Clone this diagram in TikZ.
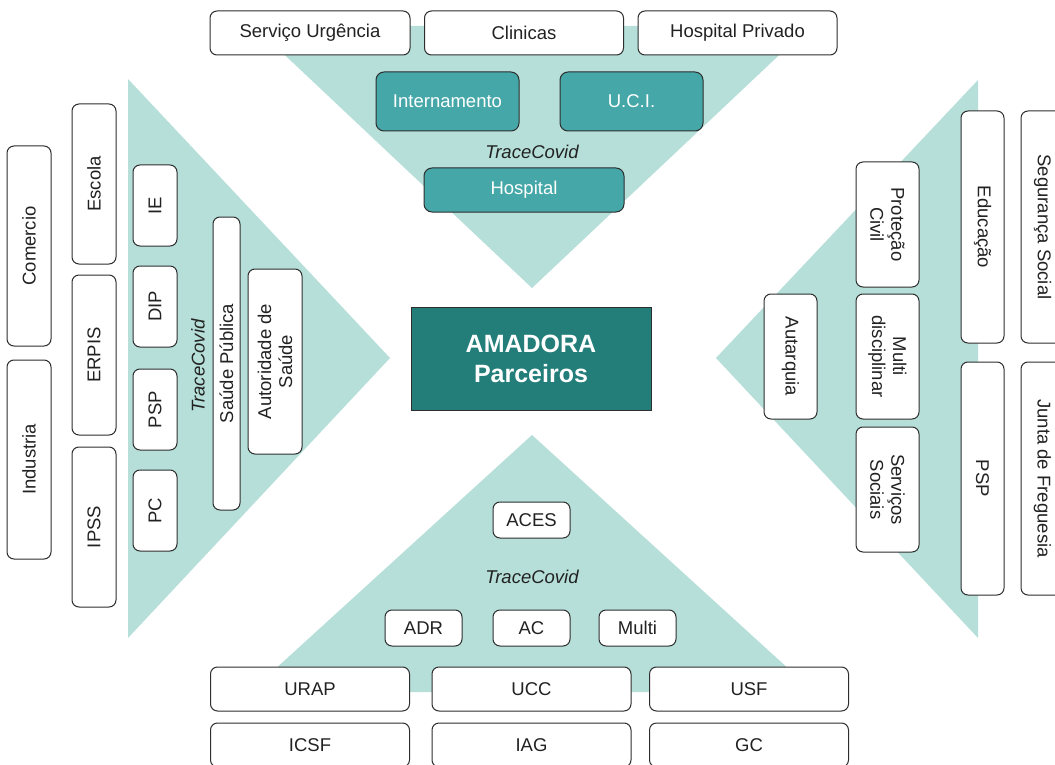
\documentclass[tikz,border=0pt]{standalone}
\usepackage{fontspec}
\setmainfont{Liberation Sans}
\definecolor{trifill}{HTML}{B5DFD8}
\definecolor{tealbox}{HTML}{46A7A8}
\definecolor{centerbox}{HTML}{237E7A}
\definecolor{boxline}{HTML}{2E2E2E}
\definecolor{txt}{HTML}{222222}
\tikzset{
  box/.style={draw=boxline, line width=1pt, rounded corners=7pt, fill=white, inner sep=0pt,
              text=txt, font=\fontsize{18.5}{21}\selectfont, align=center},
  tbox/.style={box, fill=tealbox, text=white, rounded corners=8pt},
  cbox/.style={draw=boxline, line width=1pt, fill=centerbox, text=white, inner sep=0pt,
               font=\fontsize{25}{30}\selectfont\bfseries, align=center},
  tracelbl/.style={text=txt, inner sep=0pt, font=\fontsize{18.5}{21}\selectfont\itshape},
  trishape/.style={fill=trifill, draw=none}
}
\begin{document}
\begin{tikzpicture}[x=1pt, y=-1pt]
\useasboundingbox (0,0) rectangle (1055,765);
\clip (0,0) rectangle (1055,765);
\fill[white] (0,0) rectangle (1055,765);
% triangles
\fill[trishape] (254,26) -- (810,26) -- (532,288) -- cycle;
\fill[trishape] (128,79) -- (128,638) -- (390,358) -- cycle;
\fill[trishape] (978,80) -- (978,638) -- (716,358) -- cycle;
\fill[trishape] (532,435) -- (250,692) -- (814,692) -- cycle;
% centre
\node[cbox, minimum width=240pt, minimum height=103pt] (amd) at (531,358.5) {AMADORA\\Parceiros};
% top
\node[box, minimum width=200pt, minimum height=44pt] (su) at (310,33) {Serviço Urgência};
\node[box, minimum width=199pt, minimum height=44pt] (cl) at (524,33) {Clinicas};
\node[box, minimum width=199pt, minimum height=44pt] (hp) at (737.5,33) {Hospital Privado};
\node[tbox, minimum width=143pt, minimum height=59pt] (int) at (447.5,101.5) {Internamento};
\node[tbox, minimum width=143pt, minimum height=59pt] (uci) at (631.5,101.5) {U.C.I.};
\node[tracelbl] (tc1) at (532,152) {TraceCovid};
\node[tbox, minimum width=200pt, minimum height=44pt] (hos) at (524,190) {Hospital};
% left
\node[box, rotate=90, minimum width=200pt, minimum height=44pt] (com) at (29,246) {Comercio};
\node[box, rotate=90, minimum width=199pt, minimum height=44pt] (ind) at (29,459.5) {Industria};
\node[box, rotate=90, minimum width=160pt, minimum height=44pt] (esc) at (94,184) {Escola};
\node[box, rotate=90, minimum width=160pt, minimum height=44pt] (erp) at (94,355) {ERPIS};
\node[box, rotate=90, minimum width=160pt, minimum height=44pt] (ips) at (94,527) {IPSS};
\node[box, rotate=90, minimum width=81pt, minimum height=44pt] (ie) at (155,205.5) {IE};
\node[box, rotate=90, minimum width=81pt, minimum height=44pt] (dip) at (155,306.5) {DIP};
\node[box, rotate=90, minimum width=81pt, minimum height=44pt] (psp) at (155,409.5) {PSP};
\node[box, rotate=90, minimum width=81pt, minimum height=44pt] (pc) at (155,510.5) {PC};
\node[tracelbl, rotate=90] (tc2) at (198,366) {TraceCovid};
\node[box, rotate=90, minimum width=293pt, minimum height=27pt] (sp) at (226.5,363.5) {Saúde Pública};
\node[box, rotate=90, minimum width=185pt, minimum height=54pt] (aut) at (275,361.5) {Autoridade de\\Saúde};
% right
\node[box, rotate=-90, minimum width=125pt, minimum height=53pt] (autq) at (790.5,356.5) {Autarquia};
\node[box, rotate=-90, minimum width=125pt, minimum height=63pt] (prot) at (887.5,224.5) {Proteção\\Civil};
\node[box, rotate=-90, minimum width=125pt, minimum height=63pt] (mult) at (887.5,356.5) {Multi\\disciplinar};
\node[box, rotate=-90, minimum width=125pt, minimum height=63pt] (serv) at (887.5,489.5) {Serviços\\Sociais};
\node[box, rotate=-90, minimum width=232pt, minimum height=43pt] (edu) at (982.5,227) {Educação};
\node[box, rotate=-90, minimum width=233pt, minimum height=43pt] (psp2) at (982.5,478.5) {PSP};
\node[box, rotate=-90, minimum width=232pt, minimum height=43pt] (seg) at (1042.5,227) {Segurança Social};
\node[box, rotate=-90, minimum width=233pt, minimum height=43pt] (jun) at (1042.5,478.5) {Junta de Freguesia};
% bottom
\node[box, minimum width=77pt, minimum height=36pt] (aces) at (531.5,520) {ACES};
\node[tracelbl] (tc3) at (532,577) {TraceCovid};
\node[box, minimum width=77pt, minimum height=36pt] (adr) at (423.5,628) {ADR};
\node[box, minimum width=77pt, minimum height=36pt] (ac) at (531.5,628) {AC};
\node[box, minimum width=77pt, minimum height=36pt] (mul) at (637.5,628) {Multi};
\node[box, minimum width=199pt, minimum height=44pt] (urap) at (310,689) {URAP};
\node[box, minimum width=199pt, minimum height=44pt] (ucc) at (531.5,689) {UCC};
\node[box, minimum width=199pt, minimum height=44pt] (usf) at (749,689) {USF};
\node[box, minimum width=199pt, minimum height=44pt] (icsf) at (310,745) {ICSF};
\node[box, minimum width=199pt, minimum height=44pt] (iag) at (531.5,745) {IAG};
\node[box, minimum width=199pt, minimum height=44pt] (gc) at (749,745) {GC};
\end{tikzpicture}
\end{document}
